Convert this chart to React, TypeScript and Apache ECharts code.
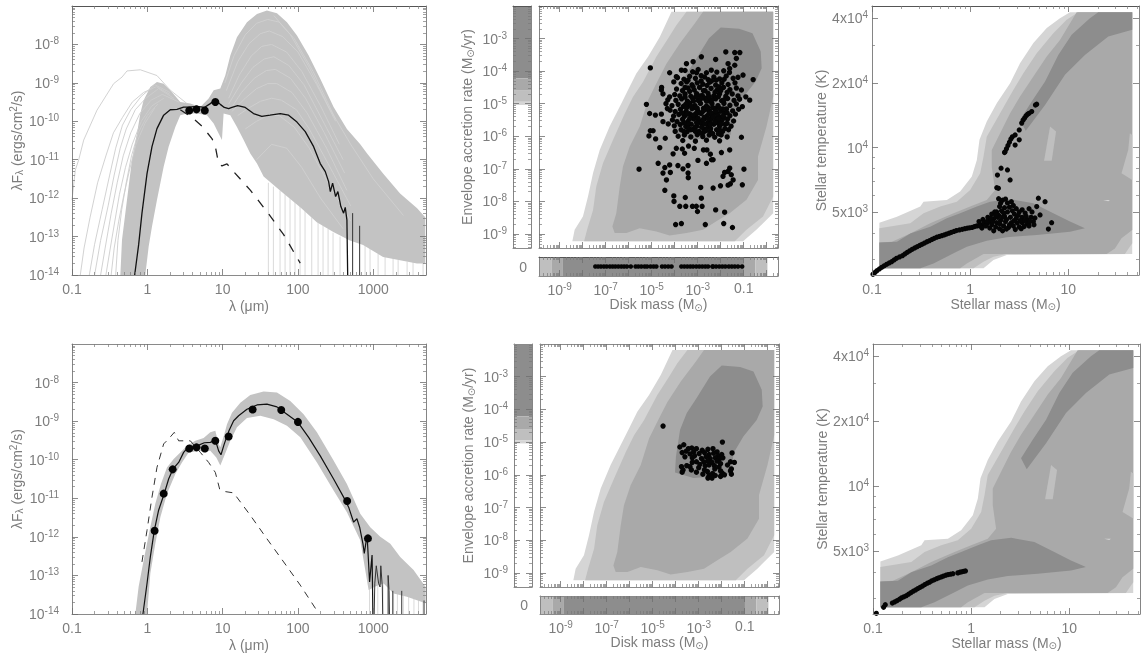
import React, { useEffect, useRef } from "react";
import * as echarts from "echarts";

// ---------- SED values: log10(wavelength / micron), log10(flux) ----------
const fluxBands = [1.25, 1.65, 2.17, 3.6, 4.5, 5.8, 8, 12, 25, 60, 100, 450, 850];
const sedTopFlux = [null, null, null, -9.72, -9.69, -9.72, -9.5, null, null, null, null, null, null];
const sedBottomFlux = [-11.84, -10.88, -10.25, -9.71, -9.68, -9.71, -9.51, -9.4, -8.7, -8.71, -9.02, -11.07, -12.04];

const sedTopBest = [[-0.168,-14],[-0.115,-13.21],[-0.071,-12.39],[-0.004,-11.36],[0.062,-10.66],[0.128,-10.19],[0.217,-9.84],[0.305,-9.7],[0.394,-9.69],[0.482,-9.63],[0.549,-9.63],[0.659,-9.61],[0.757,-9.64],[0.836,-9.54],[0.903,-9.44],[0.969,-9.56],[1.022,-9.64],[1.08,-9.67],[1.124,-9.64],[1.2,-9.59],[1.3,-9.64],[1.41,-9.8],[1.52,-9.87],[1.63,-9.84],[1.765,-9.8],[1.876,-9.84],[1.987,-10.02],[2.097,-10.27],[2.208,-10.66],[2.296,-11.1],[2.363,-11.31],[2.407,-11.57],[2.43,-11.83],[2.46,-11.61],[2.5,-11.96],[2.53,-11.83],[2.57,-12.22],[2.606,-12.39],[2.628,-12.24],[2.65,-12.57],[2.66,-14]];
const sedTopBestSpikes = [[[2.726,-14],[2.726,-12.39]],[[2.819,-14],[2.819,-12.72]]];
const sedTopStar = [[0.438,-9.7],[0.593,-9.9],[0.726,-10.13],[0.858,-10.45],[0.903,-10.66],[0.947,-11.1],[0.991,-11.16],[1.058,-11.11],[1.146,-11.31],[1.367,-11.79],[1.588,-12.35],[1.81,-12.95],[2.03,-13.69]];
const sedTopEnvelope = [[-0.358,-14],[-0.336,-13.08],[-0.292,-12.39],[-0.248,-11.7],[-0.204,-11.01],[-0.137,-10.32],[-0.093,-9.8],[-0.049,-9.45],[0.04,-9.11],[0.128,-8.98],[0.217,-9.02],[0.305,-9.19],[0.438,-9.5],[0.571,-9.54],[0.704,-9.63],[0.814,-9.41],[0.881,-9.19],[0.969,-9.15],[1.035,-8.81],[1.102,-8.29],[1.19,-7.81],[1.323,-7.42],[1.456,-7.21],[1.588,-7.12],[1.721,-7.19],[1.854,-7.42],[1.987,-7.77],[2.142,-8.29],[2.296,-8.89],[2.473,-9.63],[2.65,-10.2],[2.827,-10.6],[2.918,-10.84],[3.13,-11.36],[3.356,-11.88],[3.582,-12.26],[3.69,-12.5],[3.69,-13.7],[3.58,-13.7],[3.13,-13.53],[2.865,-13.22],[2.69,-13.1],[2.47,-12.88],[2.25,-12.63],[2.03,-12.24],[1.762,-11.8],[1.544,-11.44],[1.456,-11.1],[1.367,-10.84],[1.279,-10.49],[1.19,-10.15],[1.102,-9.84],[1.013,-9.8],[0.991,-10.49],[0.947,-10.32],[0.881,-10.06],[0.792,-9.84],[0.659,-9.8],[0.527,-9.8],[0.438,-9.84],[0.372,-10.15],[0.283,-10.66],[0.217,-11.18],[0.128,-12.05],[0.062,-12.74],[0.018,-13.26],[-0.027,-14]];
const sedTopOuterModels = [
  [[-1,-12.05],[-0.956,-11.27],[-0.912,-11.01],[-0.845,-10.49],[-0.668,-9.71],[-0.447,-9.02],[-0.336,-8.85],[-0.27,-8.69],[-0.093,-8.66],[0.128,-8.81],[0.305,-9.19],[0.527,-9.54]],
  [[-0.89,-14],[-0.84,-13.3],[-0.76,-12.5],[-0.66,-11.6],[-0.55,-10.9],[-0.45,-10.3],[-0.33,-9.9],[-0.2,-9.5],[-0.05,-9.25],[0.12,-9.1],[0.3,-9.3]],
  [[-0.77,-14],[-0.7,-13.2],[-0.6,-12.3],[-0.5,-11.4],[-0.42,-10.7],[-0.33,-10.1],[-0.22,-9.7],[-0.08,-9.35],[0.1,-9.05],[0.3,-9.25]],
  [[-0.7,-14],[-0.62,-13.1],[-0.52,-12.2],[-0.44,-11.4],[-0.36,-10.7],[-0.28,-10.2],[-0.16,-9.7],[-0.02,-9.4],[0.15,-9.15],[0.35,-9.4]],
  [[-0.62,-14],[-0.56,-13.3],[-0.48,-12.4],[-0.4,-11.6],[-0.32,-10.9],[-0.22,-10.3],[-0.1,-9.8],[0.05,-9.45],[0.2,-9.3],[0.42,-9.5]],
  [[-0.55,-14],[-0.5,-13.4],[-0.44,-12.7],[-0.37,-11.9],[-0.29,-11.2],[-0.2,-10.6],[-0.08,-10],[0.06,-9.6],[0.22,-9.4]],
  [[-0.48,-14],[-0.44,-13.3],[-0.38,-12.6],[-0.32,-12],[-0.24,-11.3],[-0.15,-10.6],[-0.03,-10.05],[0.1,-9.65]],
  [[-0.42,-14],[-0.39,-13.1],[-0.34,-12.3],[-0.28,-11.6],[-0.21,-10.9],[-0.12,-10.3],[0,-9.85],[0.14,-9.55]],
];
const sedTopInnerModels = [
  [[1.03,-9.0],[1.15,-8.3],[1.3,-7.75],[1.45,-7.45],[1.6,-7.35],[1.75,-7.42],[1.95,-7.85],[2.2,-8.7],[2.5,-9.95]],
  [[1.05,-9.2],[1.2,-8.45],[1.35,-7.98],[1.5,-7.72],[1.62,-7.65],[1.8,-7.8],[2,-8.2],[2.25,-9.05],[2.5,-10]],
  [[1.08,-9.4],[1.22,-8.8],[1.38,-8.3],[1.52,-8.05],[1.65,-8],[1.85,-8.2],[2.05,-8.7],[2.3,-9.6],[2.55,-10.6]],
  [[1.08,-9.55],[1.25,-9.0],[1.4,-8.6],[1.55,-8.38],[1.68,-8.32],[1.88,-8.55],[2.08,-9.05],[2.32,-9.95],[2.6,-11]],
  [[1.1,-9.7],[1.25,-9.25],[1.42,-8.88],[1.58,-8.68],[1.7,-8.65],[1.9,-8.88],[2.1,-9.4],[2.35,-10.3],[2.62,-11.35]],
  [[1.12,-9.75],[1.3,-9.4],[1.45,-9.15],[1.6,-9.02],[1.72,-9.02],[1.92,-9.25],[2.12,-9.78],[2.38,-10.7],[2.65,-11.8]],
  [[1.2,-9.85],[1.35,-9.65],[1.5,-9.48],[1.65,-9.4],[1.78,-9.45],[1.98,-9.7],[2.15,-10.2],[2.4,-11.1],[2.7,-12.2]],
  [[1.3,-10.2],[1.45,-10],[1.6,-9.85],[1.75,-9.85],[1.95,-10.15],[2.15,-10.7],[2.4,-11.6],[2.7,-12.6]],
  [[1.68,-7.25],[1.9,-7.75],[2.15,-8.6],[2.4,-9.6],[2.7,-10.6],[3.0,-11.5],[3.4,-12.45]],
  [[1.45,-11],[1.65,-10.6],[1.85,-10.7],[2.05,-11.2],[2.3,-12],[2.6,-12.8]],
];
const sedTopSpikes = [[1.607,-11.6],[1.674,-11.7],[1.762,-11.8],[1.829,-11.9],[1.895,-12],[1.961,-12.1],[2.028,-12.2],[2.094,-12.3],[2.183,-12.5],[2.267,-12.6],[2.333,-12.7],[2.4,-12.8],[2.466,-12.9],[2.559,-13],[2.891,-13.2],[2.957,-13.3],[3.064,-13.45],[3.157,-13.5],[3.263,-13.55],[3.33,-13.6],[3.449,-13.65],[3.528,-13.6],[3.661,-13.65]];

const sedBottomBest = [[-0.058,-14],[-0.004,-13.21],[0.04,-12.52],[0.093,-11.83],[0.15,-11.31],[0.226,-10.87],[0.283,-10.5],[0.341,-10.24],[0.416,-10.07],[0.482,-9.81],[0.549,-9.66],[0.659,-9.64],[0.757,-9.56],[0.836,-9.55],[0.903,-9.49],[0.947,-9.77],[0.978,-9.87],[1.022,-9.59],[1.084,-9.25],[1.146,-8.99],[1.212,-8.86],[1.323,-8.69],[1.456,-8.58],[1.588,-8.56],[1.721,-8.63],[1.854,-8.82],[2,-9.03],[2.142,-9.42],[2.296,-9.9],[2.473,-10.5],[2.606,-10.97],[2.673,-11.23],[2.739,-11.62],[2.783,-11.53],[2.819,-11.75],[2.863,-12.18],[2.881,-12.43],[2.907,-12.09],[2.92,-12.03],[2.951,-13.17],[2.984,-12.47],[2.995,-14]];
const sedBottomBestSpikes = [
  [[3.012,-14],[3.02,-13.2],[3.04,-12.75],[3.07,-13.2],[3.09,-13.3],[3.1,-12.75],[3.12,-13.3],[3.125,-14]],
  [[3.197,-14],[3.197,-13],[3.21,-13.4],[3.215,-14]],
  [[3.259,-14],[3.259,-13.4]],
  [[3.378,-14],[3.378,-13.4]],
  [[3.674,-14],[3.674,-13.65]],
];
const sedBottomStar = [[-0.071,-12.65],[-0.004,-11.83],[0.062,-10.97],[0.128,-10.2],[0.217,-9.59],[0.283,-9.46],[0.358,-9.29],[0.416,-9.51],[0.571,-9.51],[0.704,-9.81],[0.814,-10.07],[0.903,-10.33],[0.96,-10.76],[1.013,-10.82],[1.146,-10.86],[1.367,-11.44],[1.588,-12.05],[1.81,-12.65],[2.03,-13.25],[2.274,-13.98]];
const sedBottomEnvelope = [[-0.159,-14],[-0.115,-13.29],[-0.04,-12.52],[0.031,-11.83],[0.106,-11.14],[0.181,-10.63],[0.261,-10.2],[0.35,-9.98],[0.438,-9.81],[0.527,-9.64],[0.637,-9.51],[0.748,-9.44],[0.836,-9.29],[0.903,-9.25],[0.947,-9.59],[0.969,-9.68],[1.022,-9.34],[1.058,-9.08],[1.124,-8.78],[1.235,-8.52],[1.367,-8.32],[1.544,-8.23],[1.721,-8.26],[1.898,-8.48],[2.075,-8.82],[2.252,-9.29],[2.473,-10.02],[2.65,-10.63],[2.827,-11.4],[2.96,-11.75],[3.093,-12],[3.226,-12.18],[3.358,-12.52],[3.535,-12.86],[3.695,-13.3],[3.695,-13.72],[3.447,-13.55],[3.27,-13.47],[3.137,-13.21],[3.027,-13.29],[2.938,-13.38],[2.872,-12.61],[2.827,-12.09],[2.65,-11.36],[2.473,-10.8],[2.252,-10.07],[2.031,-9.42],[1.854,-9.12],[1.677,-8.95],[1.5,-8.86],[1.323,-8.92],[1.19,-9.16],[1.102,-9.51],[1.022,-9.9],[0.969,-10.15],[0.916,-9.94],[0.836,-9.77],[0.704,-9.77],[0.549,-9.81],[0.46,-10.07],[0.372,-10.37],[0.261,-10.88],[0.173,-11.49],[0.106,-12.18],[0.04,-12.95],[-0.004,-14]];
const sedBottomSpikes = [[2.95,-13.2],[2.99,-13.2],[3.06,-13.1],[3.13,-13.2],[3.2,-13.3],[3.27,-13.4],[3.32,-13.45],[3.4,-13.5],[3.47,-13.5],[3.54,-13.6],[3.6,-13.6],[3.66,-13.65]];

// ---------- Disk mass / envelope accretion rate (log10 values) ----------
const rateLevel1 = [[-8.45,-9.22],[-8.35,-8.87],[-7.99,-8.46],[-7.77,-7.85],[-7.55,-7.13],[-7.26,-6.42],[-6.83,-5.7],[-6.32,-4.99],[-6.03,-4.58],[-5.67,-4.07],[-5.16,-3.56],[-4.65,-2.95],[-4.14,-2.18],[0.28,-2.18],[0.28,-8.36],[-0.45,-8.87],[-1.03,-9.22]];
const rateLevel2 = [[-7.94,-9.22],[-7.81,-8.87],[-7.55,-8.26],[-7.41,-7.54],[-7.12,-6.83],[-6.68,-6.11],[-6.17,-5.3],[-5.81,-4.79],[-5.38,-4.33],[-4.8,-3.56],[-4.29,-3],[-3.93,-2.59],[-3.49,-2.18],[0.28,-2.18],[0.28,-7.85],[-0.16,-8.46],[-0.88,-8.87],[-1.39,-9.22]];
const rateLevel3 = [[-6.71,-8.77],[-6.54,-8.36],[-6.39,-7.54],[-6.25,-6.93],[-5.96,-6.32],[-5.52,-5.7],[-5.16,-4.89],[-4.8,-4.38],[-4.36,-3.77],[-3.78,-3.15],[-3.13,-2.54],[-2.77,-2.18],[0.28,-2.18],[0.28,-4.79],[-0.01,-5.7],[-0.38,-6.62],[-0.38,-7.34],[-0.88,-7.95],[-1.61,-8.36],[-2.19,-8.61],[-2.77,-8.87],[-3.49,-8.97],[-4.22,-9.05],[-4.8,-8.92],[-5.52,-8.82],[-6.1,-8.97],[-6.61,-8.97]];
const rateLevel4 = [[-2,-2.66],[-1.2,-2.7],[-0.62,-2.84],[-0.26,-3.4],[-0.22,-3.91],[-0.48,-4.32],[-1.06,-4.83],[-1.49,-5.34],[-1.57,-5.95],[-2.36,-6.05],[-3.23,-6.1],[-4.03,-5.93],[-3.99,-5.44],[-3.81,-4.62],[-3.52,-4.11],[-3.09,-3.65],[-2.51,-2.99]];
const rateStripBands = [[-4.22,-2,3],[-4.6,-4.22,2],[-4.94,-4.6,1],[-5.04,-4.94,0]];
const massStripBands = [[-9.9,-9.36,1],[-9.36,-8.86,2],[-8.86,-0.99,3],[-0.99,-0.49,2],[-0.49,0.03,1]];

const rateSparseTop = [[-5.06,-3.9],[-5.23,-5.02],[-5.55,-7.01],[-0.99,-7.01],[-4.72,-6.83],[-4.43,-6.96],[-4.22,-6.88],[-4.51,-7.13],[-4.19,-7.11],[-4.36,-7.34],[-4.43,-7.66],[-3.86,-6.9],[-3.64,-7],[-3.42,-6.9],[-3.42,-7.13],[-3.41,-7.27],[-2.87,-7.57],[-2.33,-7.59],[-2.01,-7.52],[-1.68,-7.5],[-1.58,-7.46],[-1.06,-7.49],[-1.9,-7.23],[-1.83,-7.11],[-1.68,-7.08],[-1.61,-6.98],[-1.54,-7.18],[-1.46,-7.34],[-4.04,-7.83],[-4.03,-8],[-3.54,-7.88],[-2.84,-7.9],[-3.78,-8.15],[-3.52,-8.15],[-3.23,-8.15],[-3.06,-8.15],[-2.81,-8.15],[-3.01,-8.31],[-2.22,-8.26],[-1.83,-8.33],[-3.96,-8.71],[-3.71,-8.68],[-2.67,-8.71],[-1.87,-8.68],[-1.49,-8.8],[-1.78,-3.41],[-1.39,-3.43],[-1.17,-3.43],[-2.84,-3.56],[-2.22,-3.64],[-1.68,-3.77],[-1.32,-3.61],[-1.39,-3.82],[-1.61,-3.92],[-0.59,-4.26],[-1.03,-4.12],[-1.25,-4.19],[-0.74,-4.89],[-0.91,-4.79],[-1.1,-4.58],[-1.06,-5.09],[-1.1,-6.03],[-1.61,-6.42],[-1.97,-6.5],[-2.33,-6.72],[-2.62,-6.83],[-2.99,-6.74],[-4.07,-6.54],[-3.93,-6.37],[-3.57,-6.52],[-3.67,-6.39],[-4.65,-6.35],[-4.41,-6.06],[-4.83,-6.08],[-5.12,-5.99],[-4.94,-5.83],[-5.06,-5.83],[-5.09,-5.3],[-4.84,-5.35],[-4.58,-5.32],[-4.51,-5.55],[-4.57,-4.5],[-4.58,-4.58],[-4.51,-4.7],[-4.22,-4.79],[-4.22,-4.05],[-4.04,-4.33],[-3.93,-4.17],[-3.71,-3.97],[-3.49,-3.77],[-3.2,-3.71],[-2.75,-6.42],[-2.6,-6.42],[-2.45,-6.55],[-3.15,-6.37],[-3.4,-6.3],[-2.4,-6.72]];
const rateDenseTop = [
  [-3.55,-3.98],[-3.22,-4.02],[-2.98,-3.95],[-2.62,-4.05],[-2.41,-3.97],[-2.17,-4.03],[-1.87,-3.99],[-1.62,-4.04],
  [-3.88,-4.2],[-3.6,-4.25],[-3.35,-4.16],[-3.1,-4.22],[-2.85,-4.14],[-2.55,-4.26],[-2.3,-4.18],[-2.05,-4.24],[-1.76,-4.15],[-1.46,-4.22],
  [-3.72,-4.38],[-3.48,-4.33],[-3.25,-4.42],[-3.02,-4.36],[-2.78,-4.4],[-2.48,-4.34],[-2.22,-4.43],[-1.95,-4.36],[-1.68,-4.41],[-1.38,-4.36],
  [-3.92,-4.55],[-3.66,-4.6],[-3.42,-4.52],[-3.15,-4.58],[-2.92,-4.5],[-2.68,-4.6],[-2.42,-4.53],[-2.16,-4.58],[-1.88,-4.5],[-1.6,-4.57],[-1.32,-4.52],
  [-4.0,-4.72],[-3.78,-4.76],[-3.55,-4.7],[-3.3,-4.77],[-3.05,-4.69],[-2.8,-4.75],[-2.55,-4.68],[-2.3,-4.76],[-2.05,-4.7],[-1.78,-4.77],[-1.5,-4.7],[-1.25,-4.76],
  [-3.95,-4.9],[-3.7,-4.85],[-3.45,-4.92],[-3.22,-4.84],[-2.98,-4.9],[-2.72,-4.83],[-2.48,-4.92],[-2.22,-4.85],[-1.96,-4.91],[-1.7,-4.84],[-1.42,-4.9],[-1.18,-4.86],
  [-4.12,-5.06],[-3.85,-5.02],[-3.62,-5.08],[-3.38,-5],[-3.12,-5.06],[-2.88,-4.99],[-2.62,-5.07],[-2.38,-5],[-2.12,-5.06],[-1.86,-4.99],[-1.6,-5.05],[-1.32,-5.01],
  [-4.2,-5.2],[-3.98,-5.24],[-3.75,-5.17],[-3.5,-5.23],[-3.25,-5.15],[-3,-5.22],[-2.75,-5.14],[-2.5,-5.22],[-2.26,-5.15],[-2,-5.23],[-1.75,-5.16],[-1.48,-5.22],[-1.22,-5.17],
  [-4.05,-5.38],[-3.82,-5.33],[-3.58,-5.39],[-3.35,-5.31],[-3.1,-5.37],[-2.85,-5.3],[-2.6,-5.38],[-2.36,-5.31],[-2.1,-5.37],[-1.85,-5.3],[-1.6,-5.37],[-1.36,-5.32],
  [-4.1,-5.5],[-3.9,-5.55],[-3.66,-5.48],[-3.42,-5.54],[-3.18,-5.47],[-2.94,-5.53],[-2.7,-5.46],[-2.46,-5.54],[-2.2,-5.47],[-1.96,-5.53],[-1.7,-5.47],[-1.44,-5.53],
  [-4.02,-5.68],[-3.76,-5.64],[-3.52,-5.7],[-3.28,-5.63],[-3.04,-5.69],[-2.8,-5.62],[-2.55,-5.7],[-2.3,-5.63],[-2.05,-5.69],[-1.8,-5.63],[-1.55,-5.69],
  [-3.98,-5.85],[-3.72,-5.8],[-3.46,-5.86],[-3.2,-5.79],[-2.95,-5.85],[-2.7,-5.79],[-2.44,-5.86],[-2.18,-5.8],[-1.92,-5.85],[-1.66,-5.8],
  [-3.85,-6.0],[-3.58,-5.96],[-3.3,-6.02],[-3.02,-5.95],[-2.78,-6.01],[-2.5,-5.96],[-2.26,-6.03],[-1.98,-5.96],[-1.72,-6.02],
  [-3.65,-6.13],[-3.1,-6.15],[-2.62,-6.12],[-2.05,-6.14],[-4.28,-5.62],[-4.32,-5.15],[-4.38,-5.0],[-4.3,-4.88],
  [-3.35,-4.98],[-3.15,-5.12],[-2.95,-5.28],[-2.72,-5.42],[-2.9,-5.58],[-3.08,-5.3],[-2.52,-5.32],[-2.68,-5.18],[-3.25,-5.42],[-2.4,-5.45],[-2.58,-5.6],[-2.83,-5.72],[-3.12,-5.72],[-2.35,-5.12],[-2.15,-5.32],[-2.02,-5.44],[-1.9,-5.16],[-2.62,-4.92],[-2.9,-4.76],[-3.42,-5.62],[-3.6,-5.3],[-2.44,-5.76],[-2.14,-5.58],[-1.84,-5.44],[-3.3,-5.8],[-2.75,-5.88],[-2.05,-5.8],
  [-3.48,-5.12],[-3.28,-5.08],[-3.02,-5.14],[-2.78,-5.24],[-2.55,-5.12],[-2.42,-5.28],[-2.22,-5.22],[-2.05,-5.14],[-1.72,-5.28],[-3.7,-5.28],[-3.45,-5.32],[-3.2,-5.35],[-2.98,-5.45],[-2.78,-5.5],[-2.55,-5.46],[-2.32,-5.4],[-2.1,-5.46],[-1.9,-5.38],[-3.6,-5.58],[-3.35,-5.46],[-3.05,-5.58],[-2.7,-5.62],[-2.45,-5.64],[-2.25,-5.55],[-1.98,-5.62],[-1.72,-5.6],[-3.4,-5.75],[-3.1,-5.85],[-2.88,-5.9],[-2.62,-5.82],[-2.35,-5.92],[-2.1,-5.92],[-1.82,-5.76],[-3.6,-5.85],[-3.52,-5.02],[-3.18,-4.92],[-2.85,-4.84],[-2.6,-4.82],[-2.38,-4.88],[-2.1,-4.78],[-1.85,-4.88],[-3.55,-4.8],[-3.35,-4.62],[-3.08,-4.78],[-2.75,-4.6],[-2.5,-4.78],[-2.25,-4.65],[-2,-4.6],[-1.72,-4.65],[-3.55,-4.5],[-3.2,-4.48],[-2.85,-4.3],[-2.6,-4.44],[-2.4,-4.3],[-2.08,-4.48],[-1.85,-4.25],[-3.42,-4.28],[-3.05,-4.05],[-2.7,-4.18],[-2.2,-4.28],
];
const rateDenseBottom = [[-4.55,-4.51],[-1.97,-5.0],[-3.82,-5.15],[-3.65,-5.08],[-3.45,-5.2],[-3.3,-5.18],[-3.1,-5.2],[-2.85,-5.25],[-2.6,-5.22],[-2.38,-5.2],[-2.2,-5.3],[-1.55,-5.33],[-3.72,-5.32],[-3.55,-5.28],[-3.38,-5.36],[-3.22,-5.3],[-2.98,-5.35],[-2.75,-5.32],[-2.55,-5.38],[-2.35,-5.34],[-2.15,-5.42],[-2,-5.38],[-3.6,-5.45],[-3.28,-5.48],[-3.18,-5.42],[-2.88,-5.5],[-2.68,-5.45],[-2.5,-5.5],[-2.28,-5.48],[-2.1,-5.52],[-1.95,-5.48],[-3.1,-5.6],[-2.78,-5.6],[-2.6,-5.58],[-2.42,-5.62],[-2.2,-5.58],[-2.05,-5.66],[-1.62,-5.6],[-1.45,-5.62],[-2.95,-5.68],[-2.72,-5.72],[-2.55,-5.7],[-2.32,-5.72],[-1.58,-5.82],[-3.75,-5.75],[-3.68,-5.85],[-3.52,-5.72],[-3.38,-5.75],[-3.32,-5.85],[-3.72,-5.92],[-3.1,-5.92],[-2.75,-5.85],[-2.62,-5.9],[-2.3,-5.82],[-2.12,-5.76],[-2.05,-5.88],[-1.98,-5.95],[-1.58,-5.98],[-1.62,-5.88],[-2.55,-6.02],[-2.82,-5.98],[-2.4,-5.96],[-2.45,-6.05],[-2.28,-6.02],[-2.6,-6.1],[-2.42,-6.1],[-2.05,-6.05],[-1.88,-6.0],[-3.0,-5.78],[-3.28,-5.62],[-1.75,-5.7]];
const massSummaryTop = [-7.45,-7.33,-7.21,-7.08,-6.96,-6.82,-6.7,-6.58,-6.45,-6.32,-6.2,-6.08,-5.91,-5.7,-5.58,-5.45,-5.31,-5.2,-5.05,-4.92,-4.8,-4.55,-4.42,-4.28,-4.14,-3.71,-3.58,-3.45,-3.32,-3.2,-3.06,-2.93,-2.8,-2.67,-2.55,-2.36,-2.33,-2.2,-2.06,-1.93,-1.8,-1.65,-1.52,-1.39,-1.25,-1.07];

// ---------- Stellar mass / temperature (log10 values) ----------
const tempLevel1 = [[-0.925,3.437],[-0.925,3.65],[-0.746,3.678],[-0.508,3.725],[-0.475,3.748],[-0.237,3.756],[-0.102,3.795],[0.017,3.865],[0.068,3.942],[0.095,4.036],[0.169,4.121],[0.271,4.207],[0.407,4.3],[0.508,4.393],[0.644,4.487],[0.78,4.557],[0.915,4.603],[1.017,4.631],[1.651,4.631],[1.651,3.504],[0.373,3.499],[0.237,3.476],[0.136,3.437]];
const tempLevel2 = [[-0.925,3.437],[-0.925,3.624],[-0.61,3.647],[-0.475,3.694],[-0.305,3.725],[-0.136,3.748],[0,3.802],[0.102,3.88],[0.136,3.958],[0.169,4.051],[0.305,4.16],[0.441,4.269],[0.542,4.347],[0.678,4.44],[0.847,4.533],[0.983,4.596],[1.102,4.631],[1.651,4.631],[1.651,3.554],[1.576,3.504],[0.373,3.504],[0.237,3.491],[0.136,3.468],[0.034,3.437]];
const tempLevel3 = [[-0.925,3.557],[-0.797,3.561],[-0.61,3.6],[-0.407,3.647],[-0.169,3.694],[0,3.725],[0.169,3.756],[0.254,3.802],[0.22,3.911],[0.22,3.989],[0.305,4.067],[0.407,4.16],[0.508,4.238],[0.644,4.331],[0.78,4.425],[0.915,4.502],[1.085,4.631],[1.651,4.631],[1.651,3.616],[1.542,3.577],[1.475,3.53],[1.39,3.504],[0.136,3.504],[-0.034,3.46],[-0.102,3.437],[-0.925,3.437]];
const tempLevel4Low = [[-0.925,3.557],[-0.746,3.561],[-0.61,3.6],[-0.407,3.631],[-0.237,3.67],[-0.102,3.694],[0.068,3.725],[0.203,3.748],[0.407,3.76],[0.644,3.74],[0.847,3.694],[1.017,3.655],[1.169,3.624],[1.017,3.608],[0.678,3.593],[0.373,3.582],[0.169,3.566],[-0.034,3.538],[-0.169,3.507],[-0.373,3.46],[-0.508,3.437],[-0.925,3.437]];
const tempLevel4High = [[0.508,4.129],[0.627,4.215],[0.763,4.308],[0.898,4.432],[1.034,4.526],[1.22,4.603],[1.305,4.631],[1.651,4.631],[1.651,4.549],[1.407,4.518],[1.169,4.432],[0.966,4.339],[0.763,4.199],[0.566,4.078]];
const tempPatchA = [[0.753,3.939],[0.814,4.098],[0.875,4.075],[0.831,3.939]];
const tempPatchB = [[1.542,3.88],[1.61,3.989],[1.627,4.067],[1.651,4.059],[1.651,3.849]];
const tempPatchC = [[1.356,3.756],[1.424,3.756],[1.407,3.75]];

const starTrackTop = [[-0.99,3.409],[-0.97,3.418],[-0.95,3.426],[-0.925,3.434],[-0.9,3.442],[-0.875,3.449],[-0.85,3.456],[-0.825,3.462],[-0.8,3.468],[-0.775,3.476],[-0.75,3.484],[-0.72,3.49],[-0.69,3.496],[-0.665,3.504],[-0.64,3.512],[-0.615,3.519],[-0.59,3.526],[-0.565,3.532],[-0.54,3.538],[-0.515,3.544],[-0.49,3.549],[-0.465,3.555],[-0.44,3.561],[-0.415,3.566],[-0.39,3.572],[-0.365,3.577],[-0.34,3.582],[-0.315,3.586],[-0.29,3.589],[-0.265,3.593],[-0.24,3.597],[-0.215,3.601],[-0.19,3.605],[-0.165,3.609],[-0.14,3.613],[-0.11,3.616],[-0.08,3.619],[-0.055,3.622],[-0.03,3.624],[-0.005,3.626],[0.02,3.628],[0.045,3.632],[0.07,3.635],[0.095,3.637],[0.12,3.639],[0.145,3.642],[0.17,3.644]];
const starSprayTop = [[0.695,3.764],[0.763,3.748],[0.83,3.65],[0.797,3.62],[0.644,3.655],[0.712,3.686],[0.678,3.725],[0.29,3.762],[0.31,3.74],[0.33,3.755],[0.36,3.76],[0.38,3.742],[0.42,3.748],[0.44,3.73],[0.3,3.725],[0.35,3.72],[0.4,3.722],[0.47,3.715],[0.53,3.71],[0.6,3.715],[0.63,3.7],[0.56,3.695],[0.5,3.7],[0.45,3.69],[0.38,3.7],[0.32,3.705],[0.27,3.7],[0.22,3.69],[0.18,3.675],[0.13,3.665],[0.09,3.655],[0.1,3.635],[0.14,3.65],[0.19,3.655],[0.24,3.668],[0.29,3.685],[0.35,3.68],[0.41,3.675],[0.47,3.67],[0.53,3.675],[0.58,3.665],[0.62,3.675],[0.66,3.672],[0.22,3.64],[0.27,3.65],[0.31,3.66],[0.36,3.655],[0.42,3.65],[0.48,3.648],[0.53,3.65],[0.58,3.645],[0.2,3.625],[0.26,3.63],[0.3,3.622],[0.34,3.635],[0.39,3.628],[0.44,3.635],[0.5,3.63],[0.55,3.632],[0.6,3.635],[0.65,3.64],[0.24,3.612],[0.33,3.612],[0.37,3.62],[0.46,3.618],[0.52,3.622],[0.28,3.675],[0.34,3.695],[0.43,3.705],[0.49,3.685],[0.55,3.66],[0.25,3.7],[0.3,3.645],[0.17,3.655],[0.12,3.625],[0.16,3.635],[0.23,3.655],[0.4,3.64],[0.45,3.66],[0.51,3.66],[0.57,3.68],[0.61,3.655],[0.37,3.665],[0.33,3.675],[0.26,3.685],[0.21,3.67]];
const starUpperTop = [[0.35,3.977],[0.356,3.981],[0.37,3.995],[0.385,4.01],[0.4,4.025],[0.415,4.04],[0.43,4.05],[0.458,4.059],[0.525,4.114],[0.54,4.128],[0.555,4.138],[0.57,4.148],[0.585,4.155],[0.6,4.16],[0.627,4.168],[0.665,4.198],[0.678,4.202],[0.5,4.082],[0.5,4.036],[0.458,4.012],[0.315,3.904],[0.38,3.896],[0.278,3.872],[0.407,3.849],[0.271,3.813],[0.288,3.81]];
const starTrackBottom = [[-0.966,3.409],[-0.892,3.437],[-0.875,3.449],[-0.803,3.457],[-0.78,3.462],[-0.756,3.468],[-0.73,3.475],[-0.708,3.481],[-0.685,3.486],[-0.661,3.491],[-0.638,3.498],[-0.614,3.505],[-0.59,3.512],[-0.566,3.518],[-0.542,3.524],[-0.519,3.53],[-0.495,3.536],[-0.471,3.543],[-0.447,3.549],[-0.424,3.554],[-0.4,3.56],[-0.376,3.565],[-0.352,3.57],[-0.329,3.574],[-0.305,3.578],[-0.281,3.582],[-0.257,3.586],[-0.234,3.589],[-0.21,3.591],[-0.186,3.593],[-0.136,3.597],[-0.115,3.6],[-0.095,3.602],[-0.075,3.604],[-0.058,3.606]];

// ---------- Tick labels ----------
const sedXTicks = [-1, 0, 1, 2, 3];
const sedXLabels = ["0.1", "1", "10", "100", "1000"];
const sedYTicks = [-14, -13, -12, -11, -10, -9, -8];
const sedYLabels = ["10{s|-14}", "10{s|-13}", "10{s|-12}", "10{s|-11}", "10{s|-10}", "10{s|-9}", "10{s|-8}"];
const massXTicks = [-9, -7, -5, -3, -1];
const massXLabels = ["10{s|-9}", "10{s|-7}", "10{s|-5}", "10{s|-3}", "0.1"];
const rateYTicks = [-9, -8, -7, -6, -5, -4, -3];
const rateYLabels = ["10{s|-9}", "10{s|-8}", "10{s|-7}", "10{s|-6}", "10{s|-5}", "10{s|-4}", "10{s|-3}"];
const smassXTicks = [-1, 0, 1];
const smassXLabels = ["0.1", "1", "10"];
const tempValues = [5000, 10000, 20000, 40000];
const tempLabels = ["5x10{s|3}", "10{s|4}", "2x10{s|4}", "4x10{s|4}"];
const tempMinorValues = [3000, 4000, 6000, 7000, 8000, 9000, 30000];

const LEVELS = ["#d5d5d5", "#bfbfbf", "#a9a9a9", "#8d8d8d"];
const SED_GREY = "#c3c3c3";
const TXT = "#7d7d7d";
const FONT = "'Liberation Sans','DejaVu Sans',sans-serif";

const decadeMinors = (from: number, to: number) => {
  const out: number[] = [];
  for (let d = from; d < to; d++) for (let k = 2; k < 10; k++) out.push(d + Math.log10(k));
  return out;
};

const RICH = {
  s: { fontSize: 10, padding: [0, 0, 7, 0], color: TXT, fontFamily: FONT },
  sub: { fontSize: 10, padding: [6, 0, 0, 0], color: TXT, fontFamily: FONT },
};

type AxisSpec = {
  range: [number, number];
  majors?: number[];
  minors?: number[];
  labels?: string[];
  name?: string;
  nameGap?: number;
  margin?: number;
  labelValues?: number[];
};

function App() {
  const ref = useRef<HTMLDivElement>(null);
  useEffect(() => {
    document.body.style.margin = "0";
    const grids: any[] = [];
    const xAxes: any[] = [];
    const yAxes: any[] = [];
    const series: any[] = [];

    const makeAxes = (dim: "x" | "y", spec: AxisSpec, gridIndex: number, frame: [string, string]) => {
      const list = dim === "x" ? xAxes : yAxes;
      const start = list.length;
      const sides = dim === "x" ? ["bottom", "top"] : ["left", "right"];
      const lab = spec.labelValues || spec.majors || [];
      const common = {
        type: "value",
        gridIndex,
        min: spec.range[0],
        max: spec.range[1],
        z: 6,
        splitLine: { show: false },
      };
      sides.forEach((position, i) => {
        list.push({
          ...common,
          position,
          name: i === 0 ? spec.name : undefined,
          nameLocation: "middle",
          nameGap: spec.nameGap,
          nameTextStyle: { color: TXT, fontSize: 14, fontFamily: FONT, rich: RICH },
          axisLine: { show: true, onZero: false, lineStyle: { color: dim === "x" ? frame[i] : "#858585", width: 1 } },
          axisTick: {
            show: !!spec.majors?.length,
            inside: true,
            length: 6,
            customValues: spec.majors || [],
            lineStyle: { color: "#6e6e6e", width: 0.8 },
          },
          axisLabel: {
            show: i === 0 && !!spec.labels,
            customValues: lab,
            margin: spec.margin ?? 8,
            color: TXT,
            fontSize: 14,
            fontFamily: FONT,
            rich: RICH,
            hideOverlap: false,
            formatter: (v: number) => {
              const at = lab.findIndex((t) => Math.abs(t - v) < 1e-6);
              return at >= 0 && spec.labels ? spec.labels[at] : "";
            },
          },
        });
        list.push({
          ...common,
          position,
          axisLine: { show: false, onZero: false },
          axisTick: {
            show: !!spec.minors?.length,
            inside: true,
            length: 3,
            customValues: spec.minors || [],
            lineStyle: { color: "#7a7a7a", width: 0.7 },
          },
          axisLabel: { show: false },
        });
      });
      return start;
    };

    const addGrid = (left: number, top: number, width: number, height: number, xs: AxisSpec, ys: AxisSpec, frame: [string, string] = ["#8a8a8a", "#8a8a8a"]) => {
      const gridIndex = grids.length;
      grids.push({ left, top, width, height, containLabel: false });
      return { xAxisIndex: makeAxes("x", xs, gridIndex, frame), yAxisIndex: makeAxes("y", ys, gridIndex, frame) };
    };

    const polygon = (axes: any, pts: number[][], fill: string, z = 1) =>
      series.push({
        type: "custom",
        ...axes,
        z,
        silent: true,
        clip: true,
        data: [pts[0]],
        encode: { x: 0, y: 1 },
        renderItem: (_: any, api: any) => ({
          type: "polygon",
          shape: { points: pts.map((p) => api.coord(p)) },
          style: { fill },
        }),
      });
    const spikes = (axes: any, items: number[][], floor: number, color: string) =>
      series.push({
        type: "custom",
        ...axes,
        z: 1,
        silent: true,
        clip: true,
        data: items,
        encode: { x: 0, y: 1 },
        renderItem: (_: any, api: any) => {
          const a = api.coord([api.value(0), floor]);
          const b = api.coord([api.value(0), api.value(1)]);
          return { type: "line", shape: { x1: a[0], y1: a[1], x2: b[0], y2: b[1] }, style: { stroke: color, lineWidth: 1 } };
        },
      });
    const curve = (axes: any, pts: number[][], color: string, width: number, z = 2, dash?: number[]) =>
      series.push({
        type: "line",
        ...axes,
        z,
        silent: true,
        symbol: "none",
        data: pts,
        lineStyle: { color, width, type: dash || "solid", cap: "butt" },
      });
    const dots = (axes: any, pts: (number | null)[][], size: number, z = 4) =>
      series.push({
        type: "scatter",
        ...axes,
        z,
        silent: true,
        symbol: "circle",
        symbolSize: size,
        itemStyle: { color: "#050505", opacity: 1 },
        data: pts,
      });

    // ---- SED panels ----
    const sedXSpec: AxisSpec = { range: [-1, 3.7], majors: sedXTicks, minors: decadeMinors(-1, 4).filter((v) => v < 3.7), labels: sedXLabels, name: "λ (μm)", nameGap: 24, margin: 7 };
    const sedYSpec: AxisSpec = { range: [-14, -7], majors: sedYTicks, minors: decadeMinors(-14, -7), labels: sedYLabels, name: "λF{sub|λ} (ergs/cm{s|2}/s)", nameGap: 47, margin: 13 };

    const a = addGrid(72, 6, 354, 269, sedXSpec, sedYSpec, ["#8a8a8a", "#555555"]);
    sedTopOuterModels.forEach((m) => curve(a, m, "#cdcdcd", 0.9, 1));
    spikes(a, sedTopSpikes, -14, "#dadada");
    polygon(a, sedTopEnvelope, SED_GREY, 1);
    sedTopInnerModels.forEach((m) => curve(a, m, "#d2d2d2", 0.8, 1));
    curve(a, sedTopBest, "#111111", 1.3, 3);
    sedTopBestSpikes.forEach((m) => curve(a, m, "#333333", 1, 3));
    curve(a, sedTopStar, "#222222", 1.3, 3, [9, 9]);
    dots(a, fluxBands.map((w, i) => [Math.log10(w), sedTopFlux[i]]).filter((p) => p[1] !== null), 8);

    const d = addGrid(72, 344, 354, 270, sedXSpec, sedYSpec);
    spikes(d, sedBottomSpikes, -14, "#dadada");
    polygon(d, sedBottomEnvelope, SED_GREY, 1);
    curve(d, sedBottomBest, "#111111", 1.2, 3);
    sedBottomBestSpikes.forEach((m) => curve(d, m, "#333333", 1, 3));
    curve(d, sedBottomStar, "#333333", 1, 3, [7, 6]);
    dots(d, fluxBands.map((w, i) => [Math.log10(w), sedBottomFlux[i]]), 8);

    // ---- Disk mass / accretion panels ----
    const massRange: [number, number] = [-9.9, 0.49];
    const rateRange: [number, number] = [-9.43, -2];
    const massMajor = [-9, -8, -7, -6, -5, -4, -3, -2, -1, 0];
    const massMinor = decadeMinors(-10, 1).filter((v) => v > -9.9 && v < 0.49);
    const rateMajor = [-9, -8, -7, -6, -5, -4, -3];
    const rateMinor = decadeMinors(-10, -2).filter((v) => v > -9.43);

    const drawRatePanel = (left: number, top: number, stripTop: number, height: number, stripH: number, frame: [string, string], pts: number[][], summary: number[]) => {
      const main = addGrid(left, top, 239, height,
        { range: massRange, majors: massMajor, minors: massMinor },
        { range: rateRange, majors: rateMajor, minors: rateMinor }, frame);
      [rateLevel1, rateLevel2, rateLevel3, rateLevel4].forEach((lv, i) => polygon(main, lv, LEVELS[i]));
      dots(main, pts, 5.4);

      const side = addGrid(left - 26, top, 18, height,
        { range: [0, 1] },
        { range: rateRange, majors: rateMajor, minors: rateMinor, labels: rateYLabels, labelValues: rateYTicks, name: "Envelope accretion rate (M{sub|⊙}/yr)", nameGap: 38, margin: 6 }, frame);
      rateStripBands.forEach(([lo, hi, lv]) => polygon(side, [[0, lo], [1, lo], [1, hi], [0, hi]], LEVELS[lv]));

      const under = addGrid(left, stripTop, 239, stripH,
        { range: massRange, majors: massMajor, minors: massMinor, labels: massXLabels, labelValues: massXTicks, name: "Disk mass (M{sub|⊙})", nameGap: 20, margin: 5 },
        { range: [-1, 1], labels: ["0"], labelValues: [0], margin: 12 }, frame);
      massStripBands.forEach(([lo, hi, lv]) => polygon(under, [[lo, -1], [hi, -1], [hi, 1], [lo, 1]], LEVELS[lv]));
      if (summary.length) dots(under, summary.map((m) => [m, 0]), 4.6);
    };

    drawRatePanel(539, 6, 257, 242, 19, ["#8a8a8a", "#555555"], [...rateDenseTop, ...rateSparseTop], massSummaryTop);
    drawRatePanel(540, 344, 596, 243, 18, ["#8a8a8a", "#8a8a8a"], rateDenseBottom, []);

    // ---- Stellar panels ----
    const smassSpec: AxisSpec = { range: [-1, 1.72], majors: smassXTicks, minors: decadeMinors(-1, 2).filter((v) => v < 1.72), labels: smassXLabels, name: "Stellar mass (M{sub|⊙})", nameGap: 20, margin: 7 };
    const tempSpec: AxisSpec = { range: [3.406, 4.66], majors: tempValues.map(Math.log10), minors: tempMinorValues.map(Math.log10), labels: tempLabels, name: "Stellar temperature (K)", nameGap: 38, margin: 4 };

    const drawTempPanel = (left: number, top: number, height: number, frame: [string, string], pts: number[][]) => {
      const p = addGrid(left, top, 267, height, smassSpec, tempSpec, frame);
      polygon(p, tempLevel1, LEVELS[0]);
      polygon(p, tempLevel2, LEVELS[1]);
      polygon(p, tempLevel3, LEVELS[2]);
      polygon(p, tempPatchA, LEVELS[1]);
      polygon(p, tempPatchB, LEVELS[1]);
      polygon(p, tempPatchC, LEVELS[0]);
      polygon(p, tempLevel4Low, LEVELS[3]);
      polygon(p, tempLevel4High, LEVELS[3]);
      dots(p, pts, 5.2);
    };
    drawTempPanel(872, 6, 269, ["#8a8a8a", "#555555"], [...starTrackTop, ...starSprayTop, ...starUpperTop]);
    drawTempPanel(873, 344, 270, ["#8a8a8a", "#8a8a8a"], starTrackBottom);

    const chart = echarts.init(ref.current!, undefined, { renderer: "svg" });
    chart.setOption({
      animation: false,
      backgroundColor: "#ffffff",
      tooltip: { show: false },
      grid: grids,
      xAxis: xAxes,
      yAxis: yAxes,
      series,
    });
    return () => chart.dispose();
  }, []);
  return (
    <div style={{ position: "fixed", left: 0, top: 0, width: 1146, height: 653, background: "#fff", filter: "blur(0.4px)" }}>
      <div ref={ref} style={{ width: 1146, height: 653 }} />
    </div>
  );
}

export default App;
